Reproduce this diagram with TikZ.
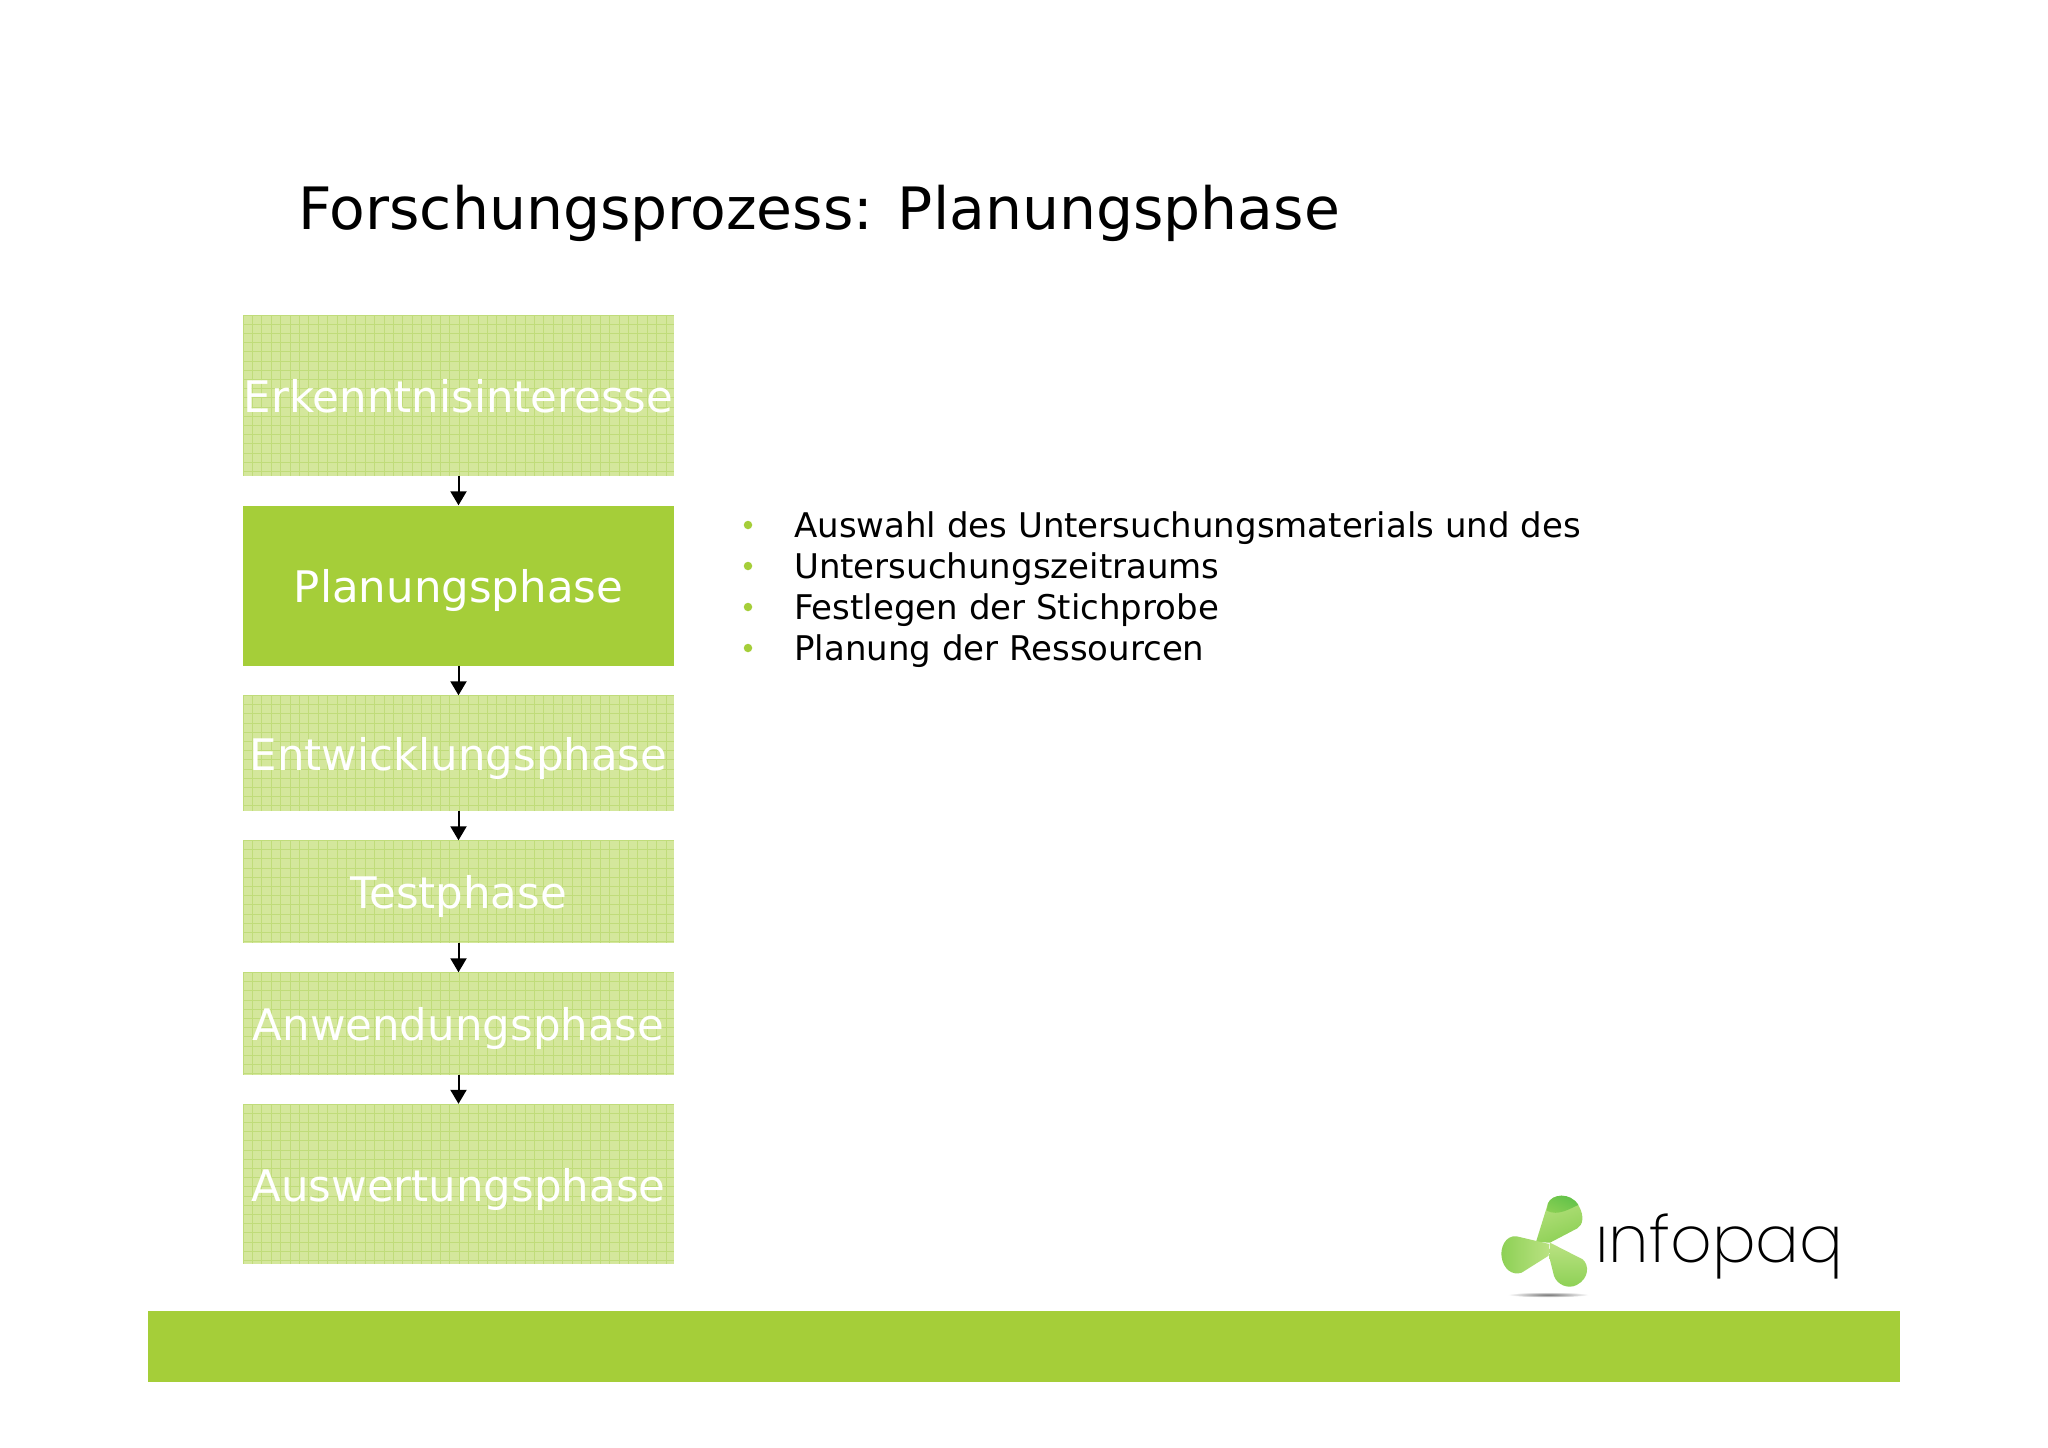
\documentclass[tikz,border=0pt]{standalone}
\usepackage{fontspec}
\setmainfont{DejaVu Sans}
\newfontfamily\logofont{Poppins ExtraLight}
\usetikzlibrary{arrows.meta}
\definecolor{bargreen}{RGB}{165,206,57}
\definecolor{lightgreen}{RGB}{212,231,156}
\definecolor{gridgreen}{RGB}{192,220,122}
\definecolor{petalA}{RGB}{92,192,72}
\definecolor{petalB}{RGB}{140,208,84}
\definecolor{petalC}{RGB}{186,226,130}
\tikzset{
  boxbase/.style={rectangle,inner sep=0pt,minimum width=431pt,text=white,text height=34pt,text depth=0pt,font=\fontsize{43.5}{43.5}\selectfont},
  paleBox/.style={boxbase,fill=lightgreen,path picture={
    \foreach \i in {0,...,46}{\draw[gridgreen,line width=1pt] ([xshift=\i*9.4pt]path picture bounding box.north west) -- ([xshift=\i*9.4pt]path picture bounding box.south west);}
    \foreach \i in {0,...,18}{\draw[gridgreen,line width=1pt] ([yshift=-\i*9.2pt]path picture bounding box.north west) -- ([yshift=-\i*9.2pt]path picture bounding box.north east);}
  }},
  strongBox/.style={boxbase,fill=bargreen},
  flow/.style={line width=2pt,-{Triangle[length=14pt,width=16pt]}},
  listline/.style={anchor=base west,inner sep=0pt,font=\fontsize{34}{34}\selectfont},
  dotmark/.style={circle,fill=bargreen,inner sep=0pt,minimum size=8.5pt},
  petal/.style={draw=none},
}
\begin{document}
\begin{tikzpicture}[x=1pt,y=-1pt]
\useasboundingbox (0,0) rectangle (2048,1448);
\fill[white] (0,0) rectangle (2048,1448);
\node[anchor=base west,inner sep=0pt,font=\fontsize{58.4}{58.4}\selectfont] (title) at (298,229) {Forschungsprozess: Planungsphase};
\node[paleBox,minimum height=161pt] (b1) at (458.5,395.5) {Erkenntnisinteresse};
\node[strongBox,minimum height=160pt] (b2) at (458.5,585.5) {Planungsphase};
\node[paleBox,minimum height=115pt] (b3) at (458.5,753) {Entwicklungsphase};
\node[paleBox,minimum height=102pt] (b4) at (458.5,891.5) {Testphase};
\node[paleBox,minimum height=102pt] (b5) at (458.5,1023.5) {Anwendungsphase};
\node[paleBox,minimum height=160pt] (b6) at (458.5,1184) {Auswertungsphase};
\draw[flow] (b1) -- (b2);
\draw[flow] (b2) -- (b3);
\draw[flow] (b3) -- (b4);
\draw[flow] (b4) -- (b5);
\draw[flow] (b5) -- (b6);
\node[dotmark] (d1) at (748,525) {};
\node[dotmark] (d2) at (748,566) {};
\node[dotmark] (d3) at (748,607) {};
\node[dotmark] (d4) at (748,648) {};
\node[listline] (t1) at (794,537) {Auswahl des Untersuchungsmaterials und des};
\node[listline] (t2) at (794,578) {Untersuchungszeitraums};
\node[listline] (t3) at (794,619) {Festlegen der Stichprobe};
\node[listline] (t4) at (794,660) {Planung der Ressourcen};
\fill[bargreen] (148,1310.5) rectangle (1900,1381.5);
\begin{scope}[shift={(1470,1170)},x=0.3333pt,y=-0.3333pt]
  \shade[inner color=black!55,outer color=white] (235,374) ellipse [x radius=122,y radius=8];
  \shade[petal,left color=petalC,right color=petalB,shading angle=20]
    (198,216) -- (234,100) .. controls (245,72) and (300,65) .. (325,105) .. controls (345,140) and (338,165) .. (322,175) -- (240,218) -- cycle;
  \shade[petal,top color=petalA,bottom color=petalB,shading angle=-25]
    (234,100) .. controls (245,72) and (300,65) .. (325,105) .. controls (300,115) and (265,140) .. (230,122) -- cycle;
  \shade[petal,left color=petalB,right color=petalC]
    (238,222) -- (140,199) .. controls (105,195) and (90,235) .. (95,262) .. controls (100,295) and (125,318) .. (155,308) -- (236,257) -- cycle;
  \shade[petal,top color=petalC,bottom color=petalB]
    (240,218) -- (338,268) .. controls (358,285) and (358,325) .. (320,345) .. controls (295,358) and (262,345) .. (252,318) -- (238,262) -- cycle;
  \node[anchor=base west,inner sep=0pt,font=\logofont\fontsize{65}{65}\selectfont] (logo) at (375,278) {ınfopaq};
\end{scope}
\end{tikzpicture}
\end{document}
